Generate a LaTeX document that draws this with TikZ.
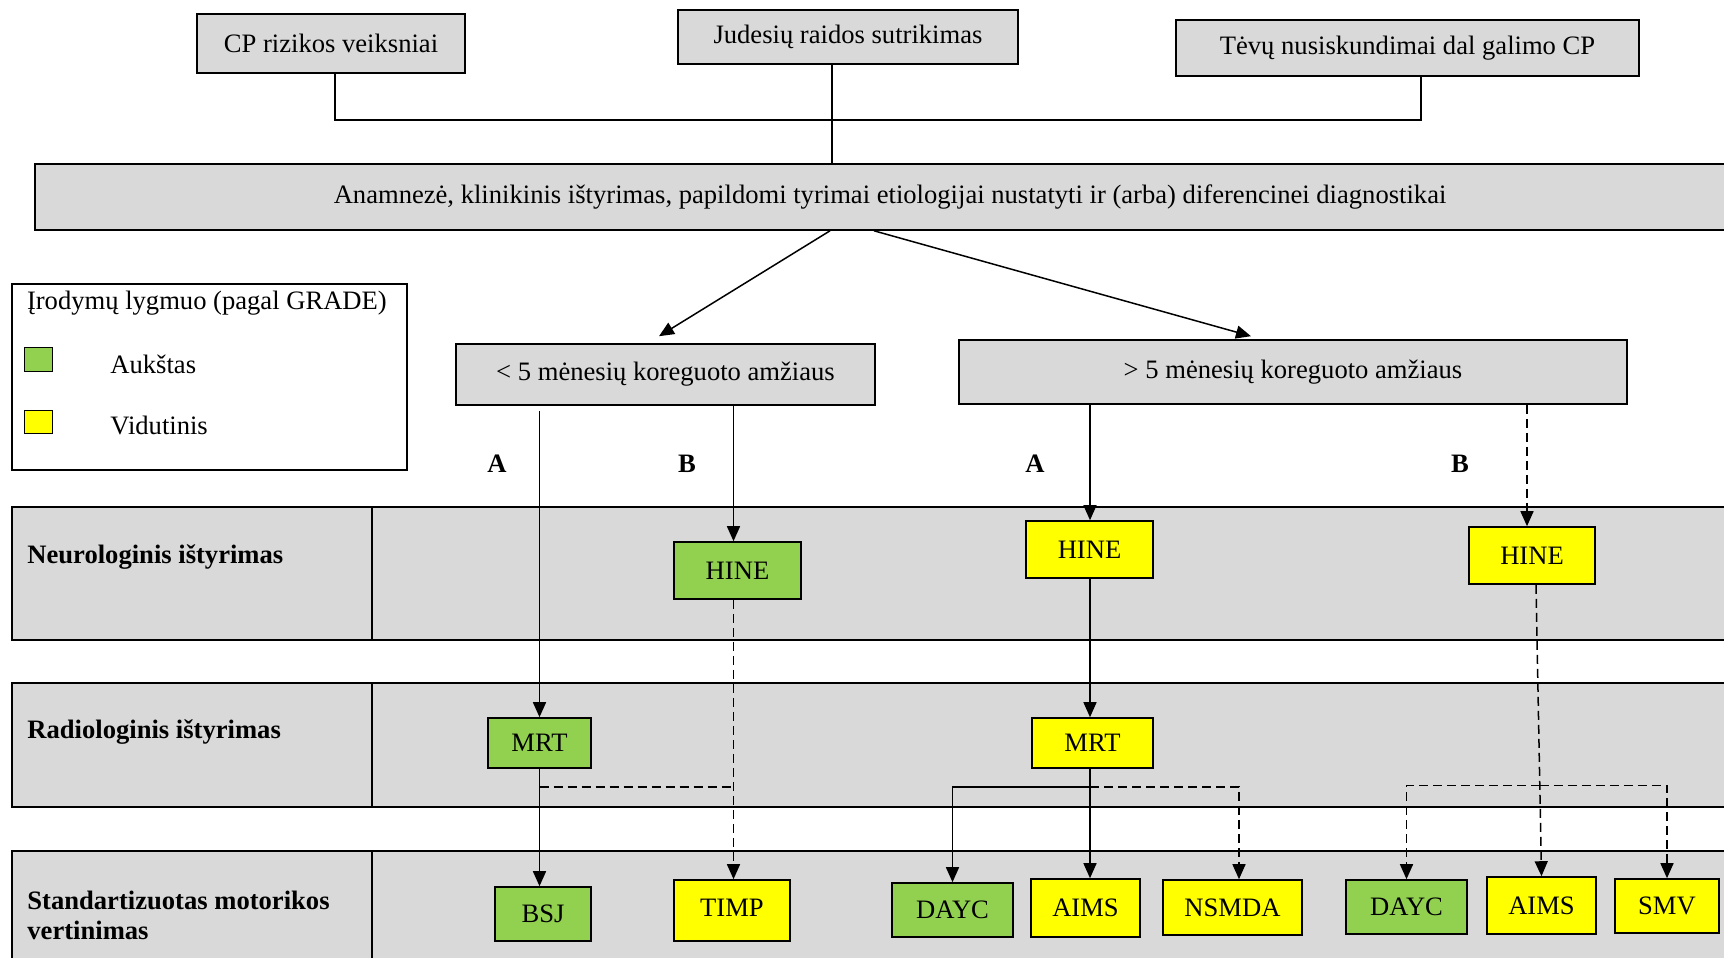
\documentclass[tikz,border=0pt]{standalone}
\usepackage{fontspec}
\setmainfont{Liberation Serif}
\usetikzlibrary{arrows.meta,calc}
\definecolor{boxgray}{HTML}{D9D9D9}
\definecolor{hgreen}{HTML}{92D050}
\definecolor{hyellow}{HTML}{FFFF00}
\tikzset{
  txt/.style={font=\fontsize{13.3}{15}\selectfont},
  graybox/.style={txt,draw=black,line width=0.8pt,fill=boxgray,inner sep=0pt,align=center},
  gbox/.style={txt,draw=black,line width=0.8pt,fill=hgreen,inner sep=0pt},
  ybox/.style={txt,draw=black,line width=0.8pt,fill=hyellow,inner sep=0pt},
  bandrect/.style={draw=black,line width=1.2pt,fill=boxgray},
  lab/.style={txt,font=\fontsize{13.3}{15}\selectfont\bfseries,inner sep=0pt,anchor=west,align=left},
  conn/.style={line width=0.75pt},
  connd/.style={line width=0.75pt,dash pattern=on 4.5pt off 2.5pt},
  arr/.style={conn,-{Triangle[length=7.5pt,width=6.5pt]}},
  arrd/.style={connd,-{Triangle[length=7.5pt,width=6.5pt]}},
}
\begin{document}
\begin{tikzpicture}[x=0.5pt,y=-0.5pt]
\useasboundingbox (0,0) rectangle (1724,958);
% top boxes
\node[graybox,minimum width=134pt,minimum height=29.5pt] (n1) at (331,43.5) {CP rizikos veiksniai};
\node[graybox,minimum width=170pt,minimum height=27pt] (n2) at (848,37) {Judesių raidos sutrikimas};
\node[graybox,minimum width=231.5pt,minimum height=28pt] (n3) at (1407.5,48) {Tėvų nusiskundimai dal galimo CP};
\node[graybox,minimum width=855pt,minimum height=33pt] (an) at (890,197) {Anamnezė, klinikinis ištyrimas, papildomi tyrimai etiologijai nustatyti ir (arba) diferencinei diagnostikai};
% age boxes
\node[graybox,minimum width=209.5pt,minimum height=30.5pt] (lb) at (665.5,374.5) {< 5 mėnesių koreguoto amžiaus};
\node[graybox,minimum width=334pt,minimum height=32pt] (rb) at (1293,372) {> 5 mėnesių koreguoto amžiaus};
% legend
\node[draw=black,line width=1pt,minimum width=197.5pt,minimum height=93pt,inner sep=0pt] (leg) at (209.5,377) {};
\node[txt,inner sep=0pt,anchor=west] (legt) at (26.6,303) {Įrodymų lygmuo (pagal GRADE)};
\node[gbox,line width=0.5pt,minimum width=14.3pt,minimum height=12pt] (lg) at (38.3,359) {};
\node[ybox,line width=0.5pt,minimum width=14.3pt,minimum height=11.5pt] (ly) at (38.3,421.5) {};
\node[txt,inner sep=0pt,anchor=west] (lgt) at (110,364) {Aukštas};
\node[txt,inner sep=0pt,anchor=west] (lyt) at (110,425) {Vidutinis};
% A / B labels
\node[lab,anchor=center] (la1) at (497,464) {A};
\node[lab,anchor=center] (lb1) at (687,464) {B};
\node[lab,anchor=center] (la2) at (1035,464) {A};
\node[lab,anchor=center] (lb2) at (1460,464) {B};
% bands
\draw[bandrect] (12,507) rectangle (1790,640);
\draw[line width=1pt] (372,507) -- (372,640);
\draw[bandrect] (12,683) rectangle (1790,807);
\draw[line width=1pt] (372,683) -- (372,807);
\draw[bandrect] (12,851) rectangle (1790,1010);
\draw[line width=1pt] (372,851) -- (372,1010);
\node[lab] (l1) at (27,557) {Neurologinis ištyrimas};
\node[lab] (l2) at (27,732) {Radiologinis ištyrimas};
\node[lab] (l3) at (27,915) {Standartizuotas motorikos\\vertinimas};
% small boxes
\node[gbox,minimum width=63.5pt,minimum height=28.5pt] (hineL) at (737.5,570.5) {HINE};
\node[gbox,minimum width=51.5pt,minimum height=25pt] (mrtL) at (539.5,743) {MRT};
\node[gbox,minimum width=48pt,minimum height=27pt] (bsj) at (543,914) {BSJ};
\node[ybox,minimum width=58pt,minimum height=30.5pt,text depth=3pt] (timp) at (732,910.5) {TIMP};
\node[ybox,minimum width=63.5pt,minimum height=28.5pt] (hineA) at (1089.5,549.5) {HINE};
\node[ybox,minimum width=63pt,minimum height=28.5pt] (hineB) at (1532,555.5) {HINE};
\node[ybox,minimum width=60.5pt,minimum height=25pt] (mrtR) at (1092.5,743) {MRT};
\node[gbox,minimum width=60.5pt,minimum height=27pt] (dayc1) at (952.5,910) {DAYC};
\node[ybox,minimum width=54.5pt,minimum height=29pt] (aims1) at (1085.5,908) {AIMS};
\node[ybox,minimum width=69.5pt,minimum height=27.5pt] (nsmda) at (1232.5,907.5) {NSMDA};
\node[gbox,minimum width=60.5pt,minimum height=27pt] (dayc2) at (1406.5,907) {DAYC};
\node[ybox,minimum width=54.5pt,minimum height=28.5pt] (aims2) at (1541.5,905.5) {AIMS};
\node[ybox,minimum width=52pt,minimum height=27pt] (smv) at (1667,906) {SMV};
% top connectors
\draw[conn] ($(n1.south)+(4,0)$) |- ($(n3.south)+(13.5,43)$) -- ($(n3.south)+(13.5,0)$);
\coordinate (jud) at ($(n2.south)+(-16,0)$);
\draw[conn] (jud) -- (jud |- an.north);
\coordinate (aL) at ($(an.south)+(-60,0)$);
\coordinate (aR) at ($(an.south)+(-16,0)$);
\draw[arr] (aL) -- ($(lb.north)+(-6.5,-7)$);
\draw[arr] (aR) -- ($(rb.north)+(-42,-3)$);
% left branch
\coordinate (lA) at ($(lb.south)+(-126,5)$);
\coordinate (lB) at ($(lb.south)+(68,0)$);
\draw[arr] (lA) -- (lA |- mrtL.north);
\draw[arr] (lB) -- (lB |- hineL.north);
\draw[arrd] (lB |- hineL.south) -- (lB |- timp.north);
\draw[arr] (lA |- mrtL.south) -- (lA |- bsj.north);
\coordinate (jL) at ($(lA |- mrtL.south)+(0,18)$);
\draw[connd] (jL) -- (jL -| lB);
% right branch
\coordinate (rA) at ($(rb.south)+(-203,0)$);
\coordinate (rB) at ($(rb.south)+(234,0)$);
\draw[arr] (rA) -- (rA |- hineA.north);
\draw[arrd] (rB) -- (rB |- hineB.north);
\draw[arr] (rA |- hineA.south) -- (rA |- mrtR.north);
\coordinate (jR0) at (rA |- mrtR.south);
\coordinate (jR) at ($(jR0)+(0,18)$);
\draw[arr] (jR0) -- (jR0 |- aims1.north);
\draw[arr] (jR) -| (dayc1.north);
\draw[arrd] (jR) -| ($(nsmda.north)+(6.5,0)$);
\coordinate (hb) at ($(hineB.south)+(4,0)$);
\draw[arrd] (hb) -- (aims2.north);
\coordinate (jB) at ($(hb)!0.689!(aims2.north)$);
\draw[arrd] (jB) -| (dayc2.north);
\draw[arrd] (jB) -| (smv.north);
\end{tikzpicture}
\end{document}
